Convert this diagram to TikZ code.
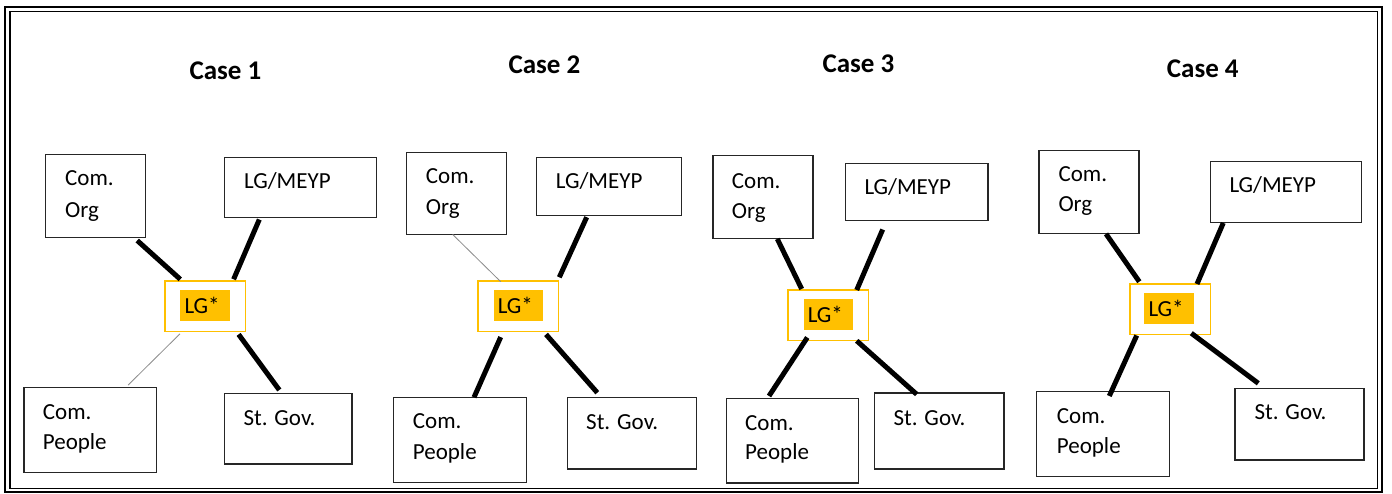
\documentclass[tikz,border=0pt]{standalone}
\usepackage{fontspec}
\setmainfont{Carlito}
\definecolor{gold}{HTML}{FFC000}
\definecolor{edge}{HTML}{262626}
\tikzset{
  box/.style={draw=edge, line width=1.2pt, anchor=north west, inner sep=0pt},
  hub/.style={draw=gold, line width=1.3pt, anchor=north west, inner sep=0pt,
              minimum width=80.7pt, minimum height=50.2pt},
  tag/.style={fill=gold, anchor=north west, inner xsep=4.3pt, inner ysep=0pt,
              text width=40.7pt, align=left, minimum height=30.7pt,
              font=\fontsize{23}{28}\selectfont},
  lbl/.style={anchor=base west, inner sep=0pt, font=\fontsize{23}{28}\selectfont},
  heading/.style={anchor=base west, inner sep=0pt, font=\fontsize{27}{32}\selectfont\bfseries},
  strong/.style={line width=5pt, black},
  weak/.style={line width=0.8pt, black!45}
}
\begin{document}
\begin{tikzpicture}[x=1pt, y=-1pt]
\useasboundingbox (0,0) rectangle (1392,494);
\fill[white] (0,0) rectangle (1392,494);

% double frame
\draw[line width=2.5pt] (5,7) rectangle (1382,492);
\draw[line width=1.2pt] (10,11.5) rectangle (1377.5,488.3);

% ---------- Case 1 ----------
\node[heading] (h1) at (189.3,80) {Case 1};
\node[box, minimum width=100pt,   minimum height=82.7pt] (c1org)  at (45,154.3) {};
\node[box, minimum width=151.7pt, minimum height=60.6pt] (c1meyp) at (224,156.7) {};
\node[hub] (c1lg) at (164.3,280.3) {};
\node[tag] (c1tag) at (180,290) {LG*};
\node[box, minimum width=132.7pt, minimum height=85pt]   (c1peo)  at (23.3,387) {};
\node[box, minimum width=127.3pt, minimum height=70.6pt] (c1gov)  at (224,392.7) {};
\node[lbl] (c1orgA) at (65,185.7) {Com.};
\node[lbl] (c1orgB) at (65,218) {Org};
\node[lbl] (c1meypA) at (244,188.3) {LG/MEYP};
\node[lbl] (c1peoA) at (42.7,419) {Com.};
\node[lbl] (c1peoB) at (42.7,449.3) {People};
\node[lbl] (c1govA) at (243.3,425) {St. Gov.};
\draw[strong] ([shift={(-9,2.3)}]c1org.south east) -- ([shift={(16,-1)}]c1lg.north west);
\draw[strong] ([shift={(35.3,1)}]c1meyp.south west) -- ([shift={(-12.7,-1)}]c1lg.north east);
\draw[strong] ([shift={(-7.7,2.6)}]c1lg.south east) -- ([shift={(55.3,-2.7)}]c1gov.north west);
\draw[weak] ([shift={(15.7,2)}]c1lg.south west) -- ([shift={(-29,-2)}]c1peo.north east);

% ---------- Case 2 ----------
\node[heading] (h2) at (508.3,73.3) {Case 2};
\node[box, minimum width=100.3pt, minimum height=82.3pt] (c2org)  at (405.7,151.7) {};
\node[box, minimum width=145pt,   minimum height=58pt]   (c2meyp) at (535.7,156.7) {};
\node[hub] (c2lg) at (477.3,280.3) {};
\node[tag] (c2tag) at (493.3,290) {LG*};
\node[box, minimum width=133pt,   minimum height=85pt]   (c2peo)  at (392.7,396.7) {};
\node[box, minimum width=129.3pt, minimum height=71.6pt] (c2gov)  at (566.7,396.7) {};
\node[lbl] (c2orgA) at (425.7,183.3) {Com.};
\node[lbl] (c2orgB) at (425.7,215) {Org};
\node[lbl] (c2meypA) at (555.7,188.3) {LG/MEYP};
\node[lbl] (c2peoA) at (412.7,428.7) {Com.};
\node[lbl] (c2peoB) at (412.7,459.3) {People};
\node[lbl] (c2govA) at (586,429.3) {St. Gov.};
\draw[weak] ([shift={(47,-0.7)}]c2org.south west) -- ([shift={(23.4,1.4)}]c2lg.north west);
\draw[strong] ([shift={(51,1.3)}]c2meyp.south west) -- ([shift={(0,-3)}]c2lg.north east);
\draw[strong] ([shift={(23.4,5.3)}]c2lg.south west) -- ([shift={(81.3,0.6)}]c2peo.north west);
\draw[strong] ([shift={(-13.3,2.6)}]c2lg.south east) -- ([shift={(30.6,-4)}]c2gov.north west);

% ---------- Case 3 ----------
\node[heading] (h3) at (822.3,72.7) {Case 3};
\node[box, minimum width=100pt,   minimum height=83.3pt] (c3org)  at (712.3,155) {};
\node[box, minimum width=142.3pt, minimum height=57.3pt] (c3meyp) at (845,162.7) {};
\node[hub] (c3lg) at (787.3,289.3) {};
\node[tag] (c3tag) at (803.3,299) {LG*};
\node[box, minimum width=132pt,   minimum height=84.6pt] (c3peo)  at (725.7,397.7) {};
\node[box, minimum width=129.3pt, minimum height=76pt]   (c3gov)  at (874,392.3) {};
\node[lbl] (c3orgA) at (731.7,188.3) {Com.};
\node[lbl] (c3orgB) at (731.7,218.3) {Org};
\node[lbl] (c3meypA) at (864.3,195) {LG/MEYP};
\node[lbl] (c3peoA) at (745,430) {Com.};
\node[lbl] (c3peoB) at (745,459.3) {People};
\node[lbl] (c3govA) at (893.3,425) {St. Gov.};
\draw[strong] ([shift={(65,-0.6)}]c3org.south west) -- ([shift={(14.4,-0.3)}]c3lg.north west);
\draw[strong] ([shift={(37.7,8.3)}]c3meyp.south west) -- ([shift={(-12.6,0.7)}]c3lg.north east);
\draw[strong] ([shift={(20,-3.3)}]c3lg.south west) -- ([shift={(43.3,-1.7)}]c3peo.north west);
\draw[strong] ([shift={(-12.6,0)}]c3lg.south east) -- ([shift={(42.7,2)}]c3gov.north west);

% ---------- Case 4 ----------
\node[heading] (h4) at (1166.7,77.3) {Case 4};
\node[box, minimum width=100pt,   minimum height=82.7pt] (c4org)  at (1038.3,150) {};
\node[box, minimum width=151pt,   minimum height=61pt]   (c4meyp) at (1210,160.7) {};
\node[hub] (c4lg) at (1129.3,283.3) {};
\node[tag] (c4tag) at (1144,293.3) {LG*};
\node[box, minimum width=133pt,   minimum height=85pt]   (c4peo)  at (1036,391) {};
\node[box, minimum width=129pt,   minimum height=71.6pt] (c4gov)  at (1234.3,387.7) {};
\node[lbl] (c4orgA) at (1058.3,181.7) {Com.};
\node[lbl] (c4orgB) at (1058.3,211.7) {Org};
\node[lbl] (c4meypA) at (1229.3,192.7) {LG/MEYP};
\node[lbl] (c4peoA) at (1056.7,423.3) {Com.};
\node[lbl] (c4peoB) at (1056.7,453.3) {People};
\node[lbl] (c4govA) at (1254.3,419.3) {St. Gov.};
\draw[strong] ([shift={(67.7,0)}]c4org.south west) -- ([shift={(10,-1.6)}]c4lg.north west);
\draw[strong] ([shift={(13.3,0)}]c4meyp.south west) -- ([shift={(-14.3,0.7)}]c4lg.north east);
\draw[strong] ([shift={(7.4,0.7)}]c4lg.south west) -- ([shift={(73.3,5)}]c4peo.north west);
\draw[strong] ([shift={(-20,-1.6)}]c4lg.south east) -- ([shift={(24,-4.4)}]c4gov.north west);
\end{tikzpicture}
\end{document}
